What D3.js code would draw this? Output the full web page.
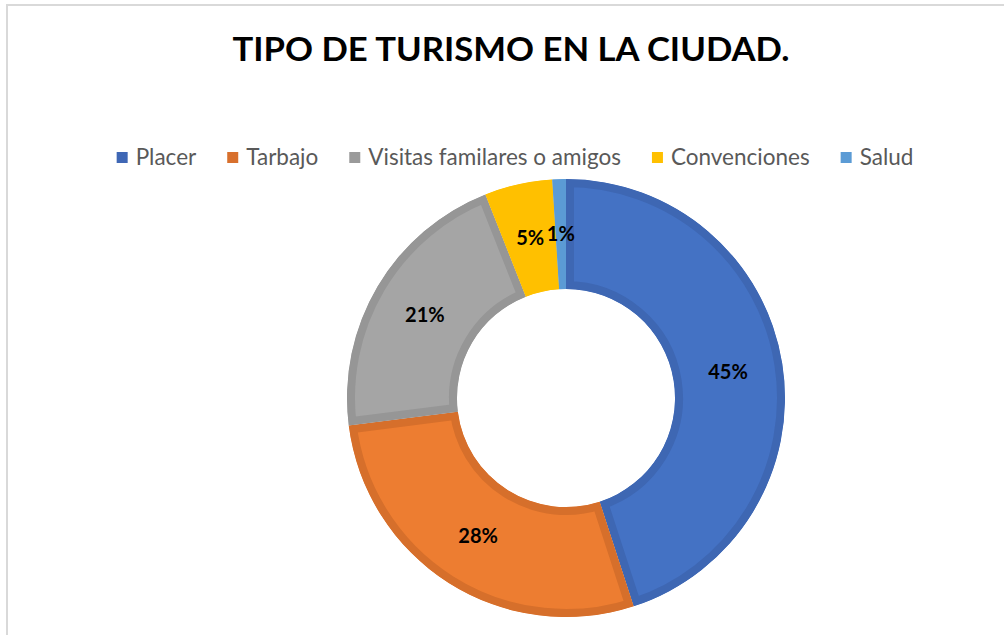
<!DOCTYPE html>
<html>
<head>
<meta charset="utf-8">
<script src="https://cdn.jsdelivr.net/npm/d3@7"></script>
<style>
  body { margin: 0; background: #fff; }
  svg { display: block; }
</style>
</head>
<body>
<div id="chart"></div>
<script>
var categories = ["Placer", "Tarbajo", "Visitas familares o amigos", "Convenciones", "Salud"];
var values = [45, 28, 21, 5, 1];
var labels = ["45%", "28%", "21%", "5%", "1%"];

var fills = ["#4472C4", "#ED7D31", "#A5A5A5", "#FFC000", "#5B9BD5"];
var strokes = ["#3E67B3", "#D66F2B", "#969696", "#FFC000", "#5B9BD5"];
var legendFills = ["#3F67B5", "#D8702D", "#9A9A9A", "#FFC000", "#5B9BD5"];

var width = 1004, height = 635;
var cx = 566, cy = 398, outerR = 219, innerR = 109, border = 8;

var svg = d3.select("#chart").append("svg")
    .attr("width", width)
    .attr("height", height);

// outer frame of the chart area
svg.append("rect")
    .attr("x", 7).attr("y", 5)
    .attr("width", width + 10).attr("height", height + 10)
    .attr("fill", "none")
    .attr("stroke", "#d9d9d9")
    .attr("stroke-width", 2);

svg.append("text")
    .attr("x", 511)
    .attr("y", 61)
    .attr("text-anchor", "middle")
    .attr("textLength", 557)
    .attr("lengthAdjust", "spacingAndGlyphs")
    .style("font-family", "Lato, 'Open Sans', sans-serif")
    .style("font-weight", "bold")
    .style("font-size", "32px")
    .attr("fill", "#000")
    .text("TIPO DE TURISMO EN LA CIUDAD.");

// legend, laid out from measured text widths, then centred
var legend = svg.append("g");
var lx = 0;
categories.forEach(function(c, i) {
  var item = legend.append("g").attr("transform", "translate(" + lx + ",0)");
  item.append("rect")
      .attr("x", 0).attr("y", -6)
      .attr("width", 11).attr("height", 11)
      .attr("fill", legendFills[i]);
  var t = item.append("text")
      .attr("x", 19)
      .attr("y", 7)
      .style("font-family", "Lato, 'Open Sans', sans-serif")
      .style("font-size", "22.5px")
      .attr("fill", "#595959")
      .text(c);
  lx += 19 + t.node().getComputedTextLength() + (i < categories.length - 1 ? 31 : 0);
});
legend.attr("transform", "translate(" + (515 - lx / 2) + ",158)");

var pie = d3.pie().sort(null).value(function(d) { return d; });
var arc = d3.arc().innerRadius(innerR).outerRadius(outerR);
var arcs = pie(values);

var g = svg.append("g").attr("transform", "translate(" + cx + "," + cy + ")");
var defs = svg.append("defs");

arcs.forEach(function(d, i) {
  defs.append("clipPath").attr("id", "clip" + i)
    .append("path").attr("d", arc(d));
});

g.selectAll("path.slice")
    .data(arcs)
    .enter().append("path")
    .attr("class", "slice")
    .attr("d", arc)
    .attr("fill", function(d, i) { return fills[i]; })
    .attr("stroke", function(d, i) { return strokes[i]; })
    .attr("stroke-width", border * 2)
    .attr("clip-path", function(d, i) { return "url(#clip" + i + ")"; });

g.selectAll("text.lbl")
    .data(arcs)
    .enter().append("text")
    .attr("class", "lbl")
    .attr("transform", function(d) { return "translate(" + arc.centroid(d) + ")"; })
    .attr("text-anchor", "middle")
    .attr("dy", "0.35em")
    .style("font-family", "Lato, 'Open Sans', sans-serif")
    .style("font-weight", "bold")
    .style("font-size", "20px")
    .attr("fill", "#000")
    .text(function(d, i) { return labels[i]; });
</script>
</body>
</html>
